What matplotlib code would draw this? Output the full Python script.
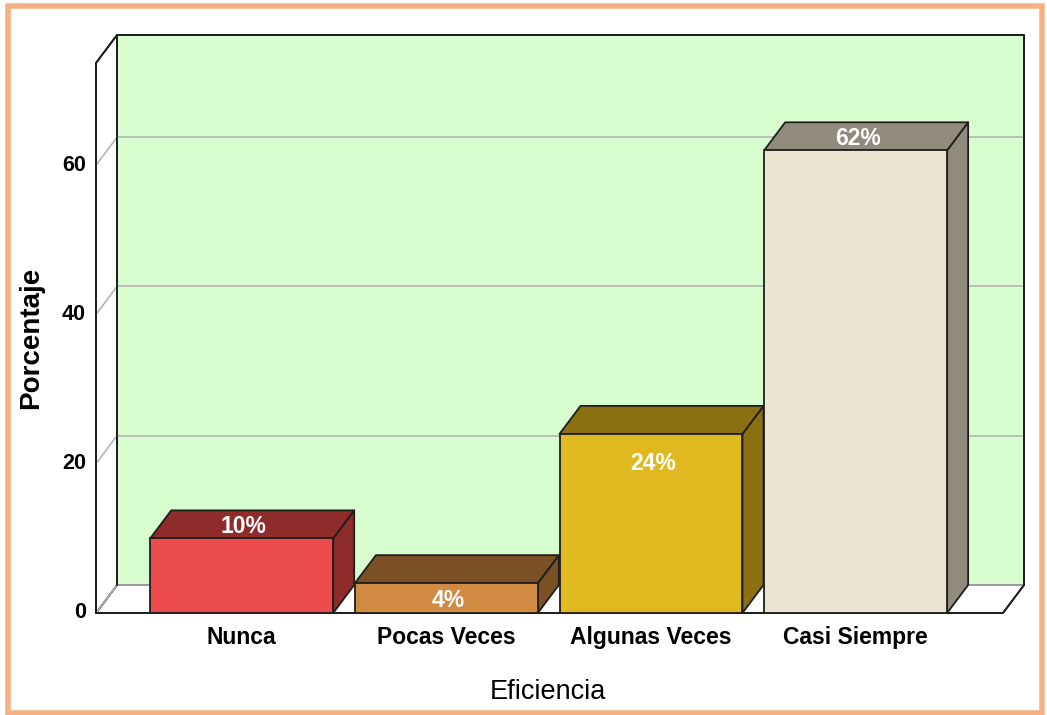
import matplotlib
matplotlib.use("Agg")
import matplotlib.pyplot as plt
from matplotlib.patches import Polygon, Rectangle

W, H = 1047, 715

categories = ["Nunca", "Pocas Veces", "Algunas Veces", "Casi Siempre"]
percent = [10, 4, 24, 62]
labels = ["10%", "4%", "24%", "62%"]
front_colors = ["#eb4b4b", "#d08a42", "#e0b920", "#ebe4d0"]
shade_colors = ["#8e2b2b", "#7b5024", "#8b7012", "#918b7d"]
# vertical nudge of each value label (percentage units)
label_dy = [1.6, -2.3, -3.9, 1.6]
y_ticks = [0, 20, 40, 60]

YMAX = 73.7
XMIN, XMAX = -0.712, 3.72
BAR_W = 0.894
WALL = "#d8fdcf"
EDGE = "#1e1e1e"
GRID = "#b4b4b4"

plt.rcParams["font.family"] = ["Liberation Sans", "DejaVu Sans"]

fig = plt.figure(figsize=(W / 100, H / 100), dpi=100)
ax = fig.add_axes([96 / W, (H - 613) / H, 907 / W, 550 / H])
ax.set_xlim(XMIN, XMAX)
ax.set_ylim(0, YMAX)
ax.axis("off")

# depth of the box, in data units
DX = (XMAX - XMIN) * 21 / 907
DY = YMAX * 28 / 550


def poly(pts, fc, ec=EDGE, lw=1.3, z=1):
    ax.add_patch(Polygon(pts, closed=True, facecolor=fc, edgecolor=ec,
                         linewidth=lw, zorder=z, clip_on=False, joinstyle="round"))


# back wall, floor and left wall
poly([(XMIN + DX, DY), (XMAX + DX, DY), (XMAX + DX, YMAX + DY), (XMIN + DX, YMAX + DY)],
     WALL, z=1)
poly([(XMIN, 0), (XMAX, 0), (XMAX + DX, DY), (XMIN + DX, DY)], "white", z=1)
poly([(XMIN, 0), (XMIN + DX, DY), (XMIN + DX, YMAX + DY), (XMIN, YMAX)], "white", z=1)

# grid lines on the back wall and the left wall
for t in y_ticks:
    ax.plot([XMIN + DX, XMAX + DX], [t + DY, t + DY], color=GRID, lw=1.2,
            zorder=2, clip_on=False)
    ax.plot([XMIN, XMIN + DX], [t, t + DY], color=GRID, lw=1.2,
            zorder=2, clip_on=False)
# redraw the outer edges over the grid
ax.plot([XMIN + DX, XMIN + DX, XMAX + DX, XMAX + DX],
        [DY, YMAX + DY, YMAX + DY, DY], color=EDGE, lw=1.3, zorder=3, clip_on=False)
ax.plot([XMIN, XMIN, XMIN + DX], [0, YMAX, YMAX + DY], color=EDGE, lw=1.3,
        zorder=3, clip_on=False)
ax.plot([XMIN, XMAX, XMAX + DX], [0, 0, DY], color=EDGE, lw=1.3, zorder=3,
        clip_on=False)

# 3D bars
for i, (v, fc, sc) in enumerate(zip(percent, front_colors, shade_colors)):
    x0, x1 = i - BAR_W / 2, i + BAR_W / 2
    z = 4 + i
    poly([(x1, 0), (x1 + DX, DY), (x1 + DX, v + DY), (x1, v)], sc, z=z)
    poly([(x0, v), (x1, v), (x1 + DX, v + DY), (x0 + DX, v + DY)], sc, z=z)
    ax.add_patch(Rectangle((x0, 0), BAR_W, v, facecolor=fc, edgecolor=EDGE,
                           linewidth=1.3, zorder=z, clip_on=False))
    ax.text(i + 0.01, v + label_dy[i], labels[i], color="white", fontsize=16.5,
            fontweight="bold", ha="center", va="center", zorder=20)

# axis labels
for t in y_ticks:
    ax.text(XMIN - 0.05, t, str(t), ha="right", va="center", fontsize=15.5,
            fontweight="bold", clip_on=False)
for i, c in enumerate(categories):
    ax.text(i, -3.3, c, ha="center", va="center", fontsize=16.5,
            fontweight="bold", clip_on=False)

fig.text(31 / W, 1 - 338 / H, "Porcentaje", rotation=90, ha="center", va="center",
         fontsize=20, fontweight="bold")
fig.text(548 / W, 1 - 692 / H, "Eficiencia", ha="center", va="center", fontsize=19.5)

# orange frame
fig.patches.append(Rectangle((7.5 / W, 2 / H), 1034 / W, (H - 7.5) / H,
                             transform=fig.transFigure, fill=False,
                             edgecolor="#f5b183", linewidth=4, zorder=0))

fig.savefig("out.png", dpi=100, facecolor="white")
